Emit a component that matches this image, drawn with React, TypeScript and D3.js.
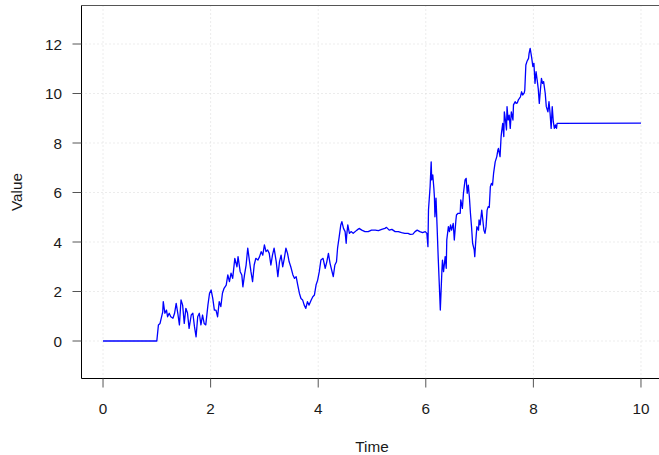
import * as d3 from 'd3';

const times = [
  0, 1.0, 1.03, 1.06, 1.11, 1.12, 1.15, 1.18, 1.2, 1.23, 1.26, 1.3, 1.33, 1.36, 1.39, 1.42, 1.45, 1.48,
  1.51, 1.54, 1.57, 1.6, 1.64, 1.67, 1.7, 1.73, 1.76, 1.79, 1.82, 1.85, 1.88, 1.91, 1.95, 1.98,
  2.01, 2.04, 2.07, 2.1, 2.13, 2.16, 2.19, 2.22, 2.25, 2.29, 2.32, 2.35, 2.38, 2.41, 2.45, 2.49,
  2.51, 2.55, 2.58, 2.6, 2.63, 2.66, 2.69, 2.72, 2.75, 2.78, 2.81, 2.84, 2.88, 2.91, 2.94, 2.97,
  3.0, 3.03, 3.06, 3.09, 3.12, 3.15, 3.18, 3.22, 3.25, 3.28, 3.31, 3.34, 3.37, 3.4, 3.43, 3.46,
  3.49, 3.53, 3.56, 3.59, 3.62, 3.65, 3.68, 3.71, 3.74, 3.77, 3.8, 3.83, 3.87, 3.9, 3.93, 3.96,
  3.99, 4.02, 4.05, 4.09, 4.13, 4.16, 4.19, 4.22, 4.25, 4.28, 4.31, 4.34, 4.36, 4.39, 4.42, 4.44,
  4.47, 4.5, 4.52, 4.53, 4.55, 4.58, 4.61, 4.65, 4.72, 4.76, 4.81, 4.87, 4.93, 4.99, 5.06, 5.12,
  5.18, 5.24, 5.27, 5.32, 5.37, 5.43, 5.49, 5.55, 5.61, 5.67, 5.71, 5.76, 5.8, 5.84, 5.89, 5.94,
  5.99, 6.02, 6.04, 6.05, 6.08, 6.1, 6.11, 6.13, 6.15, 6.16, 6.17, 6.19, 6.21, 6.23, 6.25, 6.27,
  6.3, 6.31, 6.33, 6.36, 6.38, 6.39, 6.42, 6.44, 6.46, 6.48, 6.51, 6.53, 6.56, 6.57, 6.6, 6.64,
  6.65, 6.68, 6.7, 6.73, 6.75, 6.77, 6.79, 6.81, 6.83, 6.85, 6.87, 6.9, 6.91, 6.93, 6.95, 6.98,
  6.99, 7.01, 7.04, 7.06, 7.08, 7.1, 7.12, 7.14, 7.16, 7.18, 7.2, 7.22, 7.24, 7.26, 7.29, 7.32,
  7.34, 7.35, 7.38, 7.4, 7.41, 7.43, 7.45, 7.46, 7.48, 7.5, 7.51, 7.53, 7.55, 7.57, 7.59, 7.62,
  7.63, 7.66, 7.68, 7.7, 7.72, 7.74, 7.76, 7.78, 7.8, 7.83, 7.84, 7.86, 7.88, 7.91, 7.92, 7.94,
  7.96, 7.97, 7.99, 8.01, 8.03, 8.05, 8.07, 8.09, 8.11, 8.13, 8.15, 8.17, 8.19, 8.22, 8.24, 8.27,
  8.29, 8.31, 8.33, 8.35, 8.37, 8.39, 8.41, 8.43, 8.44, 10.0,
];

const values = [
  0, 0, 0.65, 0.71, 1.18, 1.59, 1.12, 1.25, 0.98, 1.12, 0.98, 0.92, 1.12, 1.52, 1.12, 0.65, 1.66, 1.45,
  0.71, 1.32, 1.13, 0.51, 1.05, 1.12, 0.58, 0.17, 0.98, 1.12, 0.65, 1.05, 0.71, 0.65, 1.45, 1.93,
  2.06, 1.72, 1.25, 1.25, 0.98, 1.59, 1.39, 1.93, 2.13, 2.26, 2.67, 2.4, 2.74, 2.53, 3.34, 3.0,
  3.41, 2.8, 2.67, 2.19, 2.67, 3.07, 3.75, 3.27, 2.8, 2.4, 3.07, 3.34, 3.27, 3.41, 3.61, 3.47,
  3.88, 3.61, 3.68, 3.54, 3.07, 3.47, 3.75, 3.2, 2.6, 3.2, 3.47, 3.0, 3.34, 3.75, 3.54, 3.2,
  3.0, 2.67, 2.53, 2.6, 2.26, 1.93, 1.72, 1.66, 1.45, 1.32, 1.59, 1.45, 1.66, 1.79, 1.86, 2.26,
  2.46, 2.8, 3.27, 3.34, 2.94, 3.2, 3.54, 3.14, 2.87, 2.6, 3.07, 3.2, 3.75, 4.21, 4.69, 4.82,
  4.55, 4.42, 3.95, 4.28, 4.69, 4.35, 4.42, 4.35, 4.48, 4.55, 4.48, 4.42, 4.42, 4.48, 4.48, 4.46,
  4.51, 4.55, 4.59, 4.48, 4.51, 4.42, 4.42, 4.38, 4.35, 4.35, 4.31, 4.32, 4.42, 4.48, 4.42, 4.38,
  4.42, 4.35, 3.81, 5.29, 6.23, 7.24, 6.51, 6.71, 6.17, 5.83, 5.02, 5.77, 4.62, 3.41, 2.33, 1.25,
  2.87, 3.27, 2.8, 3.41, 2.94, 4.08, 4.62, 4.42, 4.69, 4.48, 4.75, 4.08, 4.89, 5.09, 5.16, 5.16,
  5.7, 5.36, 5.97, 6.51, 6.57, 5.97, 6.3, 5.83, 5.16, 4.62, 3.95, 3.68, 3.41, 4.08, 4.62, 4.48,
  4.89, 4.69, 5.29, 4.89, 4.48, 4.35, 4.62, 5.29, 5.43, 5.4, 6.23, 6.37, 6.3, 6.77, 7.24, 7.45,
  7.72, 7.78, 7.45, 8.26, 8.46, 8.79, 8.26, 9.26, 8.93, 8.53, 9.47, 8.93, 9.13, 8.59, 9.26, 8.93,
  9.54, 9.67, 9.6, 9.62, 9.74, 9.8, 9.87, 10.07, 9.94, 10.03, 10.14, 11.15, 11.29, 11.42, 11.62, 11.82,
  11.56, 11.42, 11.09, 11.22, 10.41, 10.88, 10.55, 10.2, 9.6, 10.14, 10.61, 10.41, 10.48, 10.01, 9.47, 9.26,
  9.67, 9.2, 8.59, 9.47, 8.86, 8.59, 8.73, 8.59, 8.79, 8.8,
];

const xTicks = [0, 2, 4, 6, 8, 10];
const yTicks = [0, 2, 4, 6, 8, 10, 12];

const W = 659;
const H = 455;
const left = 81.5;
const top = 5.5;
const bottom = 378.5;
const right = 662.5;

export default function App() {
  const x = d3.scaleLinear().domain([-0.4, 10.4]).range([left, right]);
  const y = d3.scaleLinear().domain([-1.515, 13.556]).range([bottom, top]);

  const pts: [number, number][] = times.map((t, i) => [t, values[i]]);
  const line = d3
    .line<[number, number]>()
    .x((d) => x(d[0]))
    .y((d) => y(d[1]));

  const font = '"Liberation Sans", Arial, Helvetica, sans-serif';
  const fs = 15.3;

  return (
    <svg
      width={W}
      height={H}
      style={{ position: 'absolute', left: 0, top: 0, background: '#fff' }}
      fontFamily={font}
    >
      {/* grid */}
      <g stroke="#d9d9d9" strokeWidth={1} strokeDasharray="1 3">
        {xTicks.map((t) => (
          <line key={'gx' + t} x1={x(t)} x2={x(t)} y1={top} y2={bottom} />
        ))}
        {yTicks.map((t) => (
          <line key={'gy' + t} x1={left} x2={right} y1={y(t)} y2={y(t)} />
        ))}
      </g>

      {/* series */}
      <path d={line(pts) || ''} fill="none" stroke="#0000ff" strokeWidth={1.3} strokeLinejoin="round" />

      {/* box */}
      <line x1={left} x2={right} y1={top} y2={top} stroke="#555" strokeWidth={1} />
      <line x1={left} x2={left} y1={top} y2={bottom} stroke="#000" strokeWidth={1} />
      <line x1={left} x2={right} y1={bottom} y2={bottom} stroke="#000" strokeWidth={1} />

      {/* y axis */}
      <g>
        {yTicks.map((t) => (
          <g key={'ty' + t}>
            <line x1={left - 9} x2={left} y1={y(t)} y2={y(t)} stroke="#555" strokeWidth={1} />
            <text x={62} y={y(t)} dy="0.36em" textAnchor="end" fontSize={fs} fill="#1a1a1a">
              {t}
            </text>
          </g>
        ))}
      </g>

      {/* x axis */}
      <g>
        {xTicks.map((t) => (
          <g key={'tx' + t}>
            <line x1={x(t)} x2={x(t)} y1={bottom} y2={bottom + 9} stroke="#555" strokeWidth={1} />
            <text x={x(t)} y={414} textAnchor="middle" fontSize={fs} fill="#1a1a1a">
              {t}
            </text>
          </g>
        ))}
      </g>

      <text x={(left + right) / 2} y={452} textAnchor="middle" fontSize={fs} fill="#1a1a1a">
        Time
      </text>
      <text
        transform={`translate(21.5, ${(top + bottom) / 2}) rotate(-90)`}
        textAnchor="middle"
        fontSize={fs}
        fill="#1a1a1a"
      >
        Value
      </text>
    </svg>
  );
}
